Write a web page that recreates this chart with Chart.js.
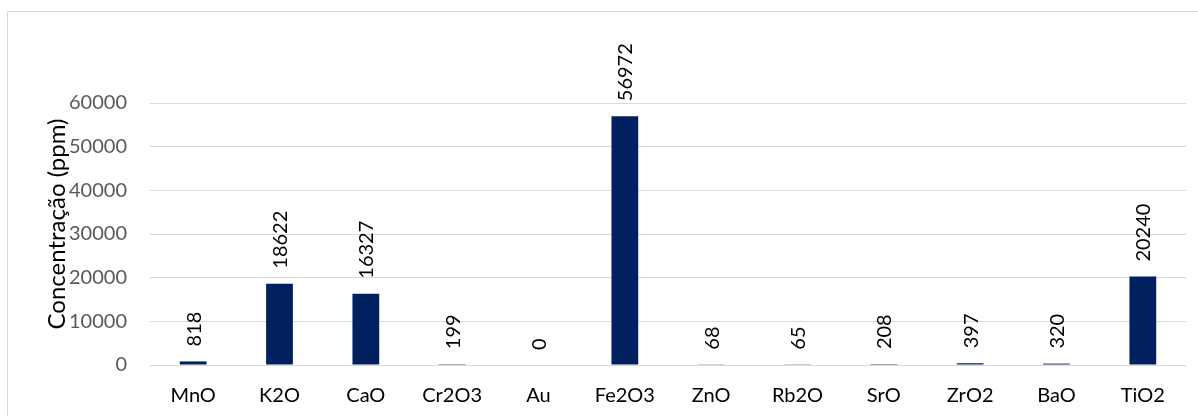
<!DOCTYPE html>
<html>
<head>
<meta charset="utf-8">
<script src="https://cdn.jsdelivr.net/npm/chart.js@4.4.1/dist/chart.umd.min.js"></script>
<style>
  html, body { margin: 0; padding: 0; background: #ffffff; overflow: hidden; }
  #wrap { position: relative; width: 1198px; height: 416px; }
</style>
</head>
<body>
<div id="wrap"><canvas id="chart" width="1198" height="416"></canvas></div>
<script>
// Oxide concentrations (ppm)
const categories = ['MnO', 'K2O', 'CaO', 'Cr2O3', 'Au', 'Fe2O3', 'ZnO', 'Rb2O', 'SrO', 'ZrO2', 'BaO', 'TiO2'];
const concentrations = [818, 18622, 16327, 199, 0, 56972, 68, 65, 208, 397, 320, 20240];
const yTicks = [0, 10000, 20000, 30000, 40000, 50000, 60000];
const yTitle = 'Concentração (ppm)';

const FONT = 'Lato, "Open Sans", sans-serif';

// Frame, rotated value labels and the vertical axis title
const decorations = {
  id: 'decorations',
  beforeDraw(chart) {
    const ctx = chart.ctx;
    ctx.save();
    ctx.strokeStyle = '#d9d9d9';
    ctx.lineWidth = 1;
    ctx.beginPath();
    ctx.moveTo(7.5, 430);
    ctx.lineTo(7.5, 11.5);
    ctx.lineTo(1210, 11.5);
    ctx.stroke();
    ctx.restore();
  },
  afterDatasetsDraw(chart) {
    const ctx = chart.ctx;
    const meta = chart.getDatasetMeta(0);
    const values = chart.data.datasets[0].data;
    ctx.save();
    ctx.fillStyle = '#000000';
    ctx.font = '20px ' + FONT;
    ctx.textAlign = 'left';
    ctx.textBaseline = 'middle';
    meta.data.forEach((bar, i) => {
      ctx.save();
      ctx.translate(bar.x + 1, bar.y - 15);
      ctx.rotate(-Math.PI / 2);
      ctx.fillText(String(values[i]), 0, 0);
      ctx.restore();
    });
    ctx.restore();
  },
  afterDraw(chart) {
    const ctx = chart.ctx;
    ctx.save();
    ctx.fillStyle = '#000000';
    ctx.font = '24px ' + FONT;
    ctx.textAlign = 'center';
    ctx.textBaseline = 'middle';
    ctx.translate(57, 224);
    ctx.rotate(-Math.PI / 2);
    ctx.fillText(yTitle, 0, 0);
    ctx.restore();
  }
};

new Chart(document.getElementById('chart'), {
  type: 'bar',
  data: {
    labels: categories,
    datasets: [{
      data: concentrations,
      backgroundColor: '#002060',
      borderWidth: 0,
      barPercentage: 0.31,
      categoryPercentage: 1.0
    }]
  },
  options: {
    responsive: false,
    devicePixelRatio: 1,
    animation: false,
    layout: { padding: { top: 103, right: 12, left: 0, bottom: 0 } },
    plugins: {
      legend: { display: false },
      tooltip: { enabled: false }
    },
    scales: {
      x: {
        offset: true,
        grid: { display: false, drawTicks: false },
        border: { display: false },
        ticks: {
          color: '#000000',
          font: { family: FONT, size: 20 },
          padding: 19,
          maxRotation: 0,
          autoSkip: false
        },
        afterFit(scale) { scale.height = 51; }
      },
      y: {
        min: 0,
        max: 60000,
        afterBuildTicks(scale) { scale.ticks = yTicks.map(v => ({ value: v })); },
        grid: { color: '#d9d9d9', lineWidth: 1, drawTicks: false },
        border: { display: false },
        ticks: {
          color: '#595959',
          font: { family: FONT, size: 20 },
          padding: 23,
          callback: (v) => String(v)
        },
        afterFit(scale) { scale.width = 150; }
      }
    }
  },
  plugins: [decorations]
});
</script>
</body>
</html>
